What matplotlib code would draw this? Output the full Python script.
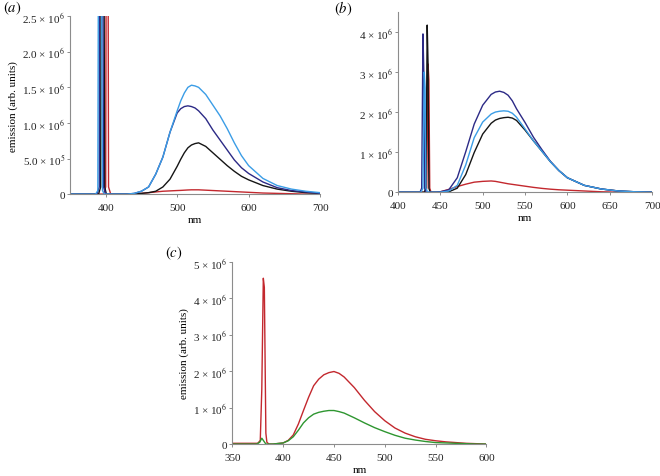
import matplotlib
matplotlib.use("Agg")
import matplotlib.pyplot as plt
import numpy as np

plt.rcParams['font.family'] = ['Liberation Serif', 'DejaVu Serif']
plt.rcParams['mathtext.fontset'] = 'stix'

# colours
LBLUE = '#3b9de6'
NAVY = '#2c2a86'
BLACK = '#151515'
RED = '#c3282e'
GREEN = '#2e9630'
GREY = '#8c8c8c'

# ---- panel (a): values in units of 1e6 ----
a_wl = [410, 420, 430, 440, 450, 460, 470, 480, 490, 500, 505, 510, 515, 520, 525, 530, 540,
        550, 560, 570, 580, 590, 600, 620, 640, 660, 680, 700]
a_lblue = [0, 0, 0, 0.01, 0.04, 0.10, 0.28, 0.52, 0.87, 1.17, 1.31, 1.42, 1.50, 1.53, 1.52, 1.50, 1.40,
           1.25, 1.10, 0.92, 0.72, 0.54, 0.40, 0.22, 0.12, 0.07, 0.04, 0.02]
a_navy = [0, 0, 0, 0.01, 0.04, 0.10, 0.28, 0.52, 0.87, 1.14, 1.20, 1.23, 1.24, 1.23, 1.21, 1.17, 1.06,
          0.90, 0.76, 0.62, 0.48, 0.37, 0.29, 0.17, 0.09, 0.05, 0.03, 0.01]
a_black = [0, 0, 0, 0, 0.01, 0.02, 0.04, 0.10, 0.21, 0.39, 0.49, 0.58, 0.65, 0.69, 0.71, 0.72, 0.67,
           0.58, 0.49, 0.40, 0.32, 0.25, 0.20, 0.12, 0.07, 0.04, 0.02, 0.01]
a_red = [0, 0, 0, 0.005, 0.01, 0.02, 0.03, 0.04, 0.045, 0.05, 0.052, 0.055, 0.058, 0.06, 0.06, 0.06, 0.055,
         0.05, 0.045, 0.04, 0.035, 0.03, 0.025, 0.015, 0.01, 0.005, 0, 0]
# excitation spikes (run off the top of the axis)
a_lblue_sx = [350, 386, 389, 390.5, 393, 395.5, 398]
a_lblue_sy = [0, 0, 0.05, 6.0, 6.0, 0.05, 0]
a_navy_sx = [350, 388, 391, 392, 395, 397, 400]
a_navy_sy = [0, 0, 0.1, 6.0, 6.0, 0.1, 0]
a_black_sx = [350, 390, 393, 394, 397, 398.5, 401]
a_black_sy = [0, 0, 0.1, 6.0, 6.0, 0.1, 0]
a_red_sx = [350, 397, 400, 401, 403, 404, 407]
a_red_sy = [0, 0, 0.1, 5.0, 5.0, 0.1, 0]

# ---- panel (b) ----
b_wl = [445, 450, 460, 470, 480, 490, 500, 510, 515, 520, 525, 530, 535, 540, 550, 560, 570,
        580, 590, 600, 620, 640, 660, 680, 700]
b_navy = [0, 0.01, 0.06, 0.36, 1.01, 1.70, 2.17, 2.44, 2.50, 2.52, 2.49, 2.42, 2.28, 2.08, 1.74, 1.37, 1.06,
          0.77, 0.54, 0.36, 0.17, 0.08, 0.03, 0.01, 0]
b_lblue = [0, 0, 0.03, 0.17, 0.68, 1.36, 1.75, 1.95, 2.00, 2.02, 2.03, 2.02, 1.97, 1.87, 1.58, 1.28, 1.02,
           0.76, 0.54, 0.36, 0.17, 0.08, 0.03, 0.01, 0]
b_black = [0, 0, 0.01, 0.10, 0.44, 0.99, 1.45, 1.72, 1.80, 1.84, 1.86, 1.87, 1.85, 1.79, 1.55, 1.28, 1.02,
           0.76, 0.54, 0.36, 0.17, 0.08, 0.03, 0.01, 0]
b_red = [0, 0.01, 0.07, 0.14, 0.20, 0.25, 0.27, 0.28, 0.27, 0.25, 0.23, 0.21, 0.195, 0.18, 0.15, 0.12, 0.095,
         0.075, 0.06, 0.05, 0.03, 0.01, 0, 0, 0]
b_navy_sx = [400, 426, 428, 429.5, 430.5, 431.5, 433]
b_navy_sy = [0, 0, 0.1, 3.95, 3.0, 0.1, 0]
b_lblue_sx = [400, 427, 429.5, 431, 432, 433, 435]
b_lblue_sy = [0, 0, 0.1, 3.0, 2.6, 0.1, 0]
b_black_sx = [400, 431, 433, 434.5, 435.5, 436.5, 438]
b_black_sy = [0, 0, 0.1, 4.17, 3.2, 0.1, 0]
b_red_sx = [400, 432, 434, 435.5, 436.5, 437.5, 439]
b_red_sy = [0, 0, 0.1, 3.2, 2.8, 0.1, 0]

# ---- panel (c) ----
c_wl = [390, 400, 405, 410, 415, 420, 425, 430, 435, 440, 445, 450, 455, 460, 470, 480, 490, 500,
        510, 520, 530, 540, 550, 560, 570, 580, 590, 600]
c_red = [0.0, 0.03, 0.10, 0.25, 0.55, 0.92, 1.28, 1.60, 1.78, 1.90, 1.96, 1.99, 1.94, 1.84, 1.55, 1.20, 0.89, 0.64,
         0.44, 0.30, 0.20, 0.13, 0.09, 0.06, 0.04, 0.02, 0.01, 0.0]
c_green = [0.0, 0.03, 0.09, 0.20, 0.38, 0.58, 0.72, 0.82, 0.87, 0.90, 0.92, 0.92, 0.89, 0.85, 0.72, 0.58, 0.45, 0.34,
           0.24, 0.16, 0.11, 0.07, 0.04, 0.03, 0.02, 0.01, 0.0, 0.0]
c_red_sx = [350, 375, 377.5, 379, 380.5, 381.5, 383, 384, 386]
c_red_sy = [0.02, 0.02, 0.1, 1.5, 4.55, 4.3, 0.3, 0.05, 0.0]
c_green_sx = [350, 374, 377, 379, 381, 383]
c_green_sy = [0.0, 0.0, 0.05, 0.16, 0.08, 0.0]


def series(sx, sy, wl, vals):
    x = np.array(list(sx) + list(wl), dtype=float)
    y = np.array(list(sy) + list(vals), dtype=float) * 1e6
    return x, y


def style_axes(ax):
    for s in ['top', 'right']:
        ax.spines[s].set_visible(False)
    for s in ['left', 'bottom']:
        ax.spines[s].set_color(GREY)
        ax.spines[s].set_linewidth(0.8)
    ax.tick_params(direction='out', length=2.5, width=0.7, color=GREY,
                   labelsize=8, labelcolor='#222222')
    ax.tick_params(axis='x', pad=4)
    ax.tick_params(axis='y', pad=1)
    ax.set_xlabel('nm', fontsize=8, labelpad=2)


def sci(mant, exp):
    return '%s \u00d7 10$^{%d}$' % (mant, exp)


fig = plt.figure(figsize=(6.6, 4.77), dpi=100)
LW = 1.0

# (a)
ax = fig.add_axes([0.106, 0.591, 0.379, 0.373])
for sx, sy, v, c in [(a_red_sx, a_red_sy, a_red, RED),
                     (a_black_sx, a_black_sy, a_black, BLACK),
                     (a_navy_sx, a_navy_sy, a_navy, NAVY),
                     (a_lblue_sx, a_lblue_sy, a_lblue, LBLUE)]:
    x, y = series(sx, sy, a_wl, v)
    ax.plot(x, y, color=c, lw=LW)
ax.set_xlim(350, 700)
ax.set_ylim(0, 2.5e6)
ax.set_xticks([400, 500, 600, 700])
ax.set_yticks([0, 0.5e6, 1.0e6, 1.5e6, 2.0e6, 2.5e6])
ax.set_yticklabels(['0', sci('5.0', 5), sci('1.0', 6), sci('1.5', 6),
                    sci('2.0', 6), sci('2.5', 6)])
style_axes(ax)
ax.set_ylabel('emission (arb. units)', fontsize=8, labelpad=3)
fig.text(0.004, 0.982, r'$(\mathit{a})$', fontsize=10.5, va='center')

# (b)
ax = fig.add_axes([0.603, 0.595, 0.385, 0.378])
for sx, sy, v, c in [(b_red_sx, b_red_sy, b_red, RED),
                     (b_black_sx, b_black_sy, b_black, BLACK),
                     (b_navy_sx, b_navy_sy, b_navy, NAVY),
                     (b_lblue_sx, b_lblue_sy, b_lblue, LBLUE)]:
    x, y = series(sx, sy, b_wl, v)
    ax.plot(x, y, color=c, lw=LW)
ax.set_xlim(400, 700)
ax.set_ylim(0, 4.5e6)
ax.set_xticks(range(400, 701, 50))
ax.set_yticks([0, 1e6, 2e6, 3e6, 4e6])
ax.set_yticklabels(['0'] + [sci(str(k), 6) for k in range(1, 5)])
style_axes(ax)
fig.text(0.506, 0.982, r'$(\mathit{b})$', fontsize=10.5, va='center')

# (c)
ax = fig.add_axes([0.352, 0.067, 0.385, 0.382])
for sx, sy, v, c in [(c_red_sx, c_red_sy, c_red, RED),
                     (c_green_sx, c_green_sy, c_green, GREEN)]:
    x, y = series(sx, sy, c_wl, v)
    ax.plot(x, y, color=c, lw=LW)
ax.set_xlim(350, 600)
ax.set_ylim(0, 5e6)
ax.set_xticks(range(350, 601, 50))
ax.set_yticks([0, 1e6, 2e6, 3e6, 4e6, 5e6])
ax.set_yticklabels(['0'] + [sci(str(k), 6) for k in range(1, 6)])
style_axes(ax)
ax.set_ylabel('emission (arb. units)', fontsize=8, labelpad=3)
fig.text(0.25, 0.468, r'$(\mathit{c})$', fontsize=10.5, va='center')

fig.savefig('out.png', dpi=100)
